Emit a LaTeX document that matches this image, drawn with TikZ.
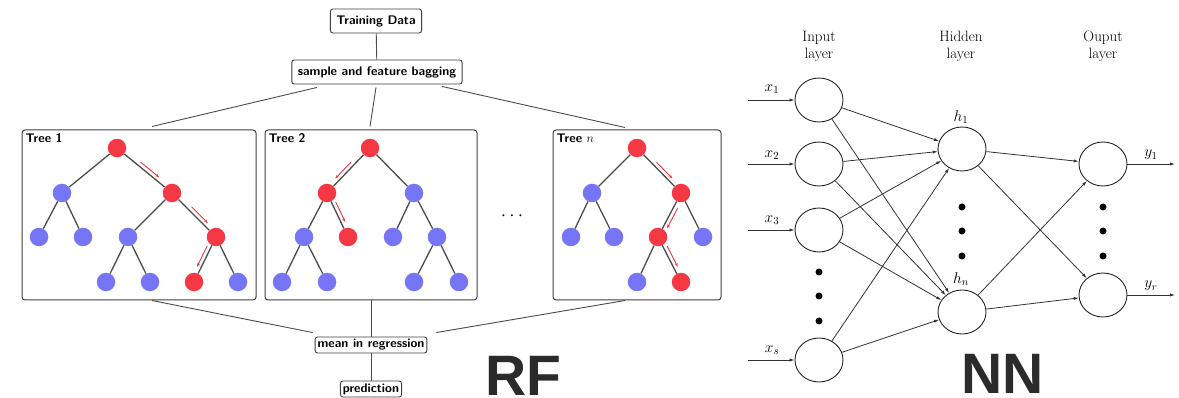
\RequirePackage{fix-cm}
\documentclass[tikz,border=0pt]{standalone}
\usepackage{fontspec}
\newfontfamily\headfont{Liberation Sans}
\usetikzlibrary{shapes.geometric,arrows.meta,calc}

\definecolor{rfred}{RGB}{244,56,68}
\definecolor{rfblue}{RGB}{117,117,246}
\definecolor{headgray}{RGB}{43,43,43}

% offset arrow running beside a tree branch: from, to, start, end, side
\newcommand{\patharr}[5]{%
  \draw[patharrow] ($(#1)!#3!(#2)!4pt!#5:(#2)$) -- ($(#1)!#4!(#2)!4pt!#5:(#2)$);}

\tikzset{
  lbox/.style={draw=black!75, line width=0.9pt, rounded corners=2.5pt,
    font=\fontsize{12.5}{14}\sffamily\bfseries, inner xsep=6pt, inner ysep=2pt,
    minimum height=24pt},
  sbox/.style={lbox, inner xsep=2.5pt, inner ysep=1pt, minimum height=16pt},
  treebox/.style={draw=black!75, line width=1pt, rounded corners=3pt},
  treelabel/.style={font=\fontsize{12.5}{14}\sffamily\bfseries, inner sep=1pt},
  leaf/.style={circle, minimum size=18.5pt, inner sep=0pt},
  bn/.style={leaf, fill=rfblue},
  rn/.style={leaf, fill=rfred},
  branch/.style={draw=black!70, line width=1.3pt},
  flow/.style={draw=black!70, line width=0.9pt},
  patharrow/.style={draw=rfred, line width=0.9pt, -{Stealth[length=4pt,width=3pt]}},
  neuron/.style={ellipse, draw=black!85, line width=0.9pt, minimum width=48pt,
    minimum height=44pt, inner sep=0pt},
  syn/.style={draw=black!80, line width=0.8pt, -{Latex[length=5pt,width=3.2pt]}},
  nnlabel/.style={font=\fontsize{15}{17}\selectfont, align=center},
  var/.style={font=\fontsize{15.5}{17}\selectfont, inner sep=0pt},
  vdot/.style={circle, fill=black, minimum size=7pt, inner sep=0pt},
  big/.style={font=\fontsize{57}{60}\headfont\bfseries, text=headgray, inner sep=0pt}
}

\begin{document}
\begin{tikzpicture}[x=1pt,y=-1pt]
\useasboundingbox[fill=white] (0,0) rectangle (1179,398);

% ---------------- random forest ----------------
\node[lbox] (train) at (376,21) {Training Data};
\node[lbox] (bag) at (377,72) {sample and feature bagging};
\draw[flow] (train) -- (bag);

\node[treebox, minimum width=234pt, minimum height=170pt] (t1) at (139,215) {};
\node[treebox, minimum width=212pt, minimum height=170pt] (t2) at (371,215) {};
\node[treebox, minimum width=168pt, minimum height=170pt] (tn) at (637,215) {};
\node[treelabel, anchor=north west] (l1) at ($(t1.north west)+(3,3)$) {Tree 1};
\node[treelabel, anchor=north west] (l2) at ($(t2.north west)+(3,3)$) {Tree 2};
\node[treelabel, anchor=north west] (ln) at ($(tn.north west)+(3,3)$) {Tree $n$};
\node[font=\fontsize{19}{20}\selectfont] (more) at (512,216) {$\cdots$};

\draw[flow] ($(bag.south)+(-60,3)$) -- ($(t1.north)+(13,-3)$);
\draw[flow] ($(bag.south)+(-1,3)$) -- ($(t2.north)+(-1,-3)$);
\draw[flow] ($(bag.south)+(65,2)$) -- ($(tn.north)+(-12,-2)$);

% tree 1
\node[rn] (a0) at (117,148) {};
\node[bn] (a1) at (62,193) {};
\node[rn] (a2) at (172,193) {};
\node[bn] (a3) at (39,237) {};
\node[bn] (a4) at (83,237) {};
\node[bn] (a5) at (128,237) {};
\node[rn] (a6) at (216,237) {};
\node[bn] (a7) at (106,282) {};
\node[bn] (a8) at (150,282) {};
\node[rn] (a9) at (194,282) {};
\node[bn] (a10) at (238,282) {};
\foreach \p/\c in {a0/a1,a0/a2,a1/a3,a1/a4,a2/a5,a2/a6,a5/a7,a5/a8,a6/a9,a6/a10}
  \draw[branch] (\p) -- (\c);
\patharr{a0}{a2}{0.38}{0.72}{90}
\patharr{a2}{a6}{0.38}{0.75}{90}
\patharr{a6}{a9}{0.24}{0.70}{-90}

% tree 2
\node[rn] (b0) at (370,148) {};
\node[rn] (b1) at (327,193) {};
\node[bn] (b2) at (414,193) {};
\node[bn] (b3) at (304,237) {};
\node[rn] (b4) at (348,237) {};
\node[bn] (b5) at (393,237) {};
\node[bn] (b6) at (437,237) {};
\node[bn] (b7) at (282,282) {};
\node[bn] (b8) at (327,282) {};
\node[bn] (b9) at (414,282) {};
\node[bn] (b10) at (459,282) {};
\foreach \p/\c in {b0/b1,b0/b2,b1/b3,b1/b4,b2/b5,b2/b6,b3/b7,b3/b8,b6/b9,b6/b10}
  \draw[branch] (\p) -- (\c);
\patharr{b0}{b1}{0.38}{0.74}{-90}
\patharr{b1}{b4}{0.24}{0.70}{90}

% tree n
\node[rn] (c0) at (637,148) {};
\node[bn] (c1) at (592,193) {};
\node[rn] (c2) at (681,193) {};
\node[bn] (c3) at (571,237) {};
\node[bn] (c4) at (614,237) {};
\node[rn] (c5) at (658,237) {};
\node[bn] (c6) at (703,237) {};
\node[bn] (c7) at (637,282) {};
\node[rn] (c8) at (681,282) {};
\foreach \p/\c in {c0/c1,c0/c2,c1/c3,c1/c4,c2/c5,c2/c6,c5/c7,c5/c8}
  \draw[branch] (\p) -- (\c);
\patharr{c0}{c2}{0.38}{0.74}{90}
\patharr{c2}{c5}{0.30}{0.76}{90}
\patharr{c5}{c8}{0.24}{0.70}{90}

% aggregation
\node[sbox] (mean) at (371,345) {mean in regression};
\node[sbox] (pred) at (371,389) {prediction};
\draw[flow] ($(t1.south)+(13,0)$) -- ($(mean.north west)+(-2,-4)$);
\draw[flow] (t2.south) -- (mean.north);
\draw[flow] ($(tn.south)+(-12,0)$) -- ($(mean.north east)+(9,-4)$);
\draw[flow] (mean) -- (pred);

\node[big, anchor=base] (rf) at (523,395) {RF};

% ---------------- neural network ----------------
\node[nnlabel] (li) at (819,46) {Input\\layer};
\node[nnlabel] (lh) at (961,46) {Hidden\\layer};
\node[nnlabel] (lo) at (1103,46) {Ouput\\layer};

\node[neuron] (i1) at (819,100) {};
\node[neuron] (i2) at (819,164) {};
\node[neuron] (i3) at (819,230) {};
\node[neuron] (is) at (819,360) {};
\node[neuron] (h1) at (962,149) {};
\node[neuron] (hn) at (962,312) {};
\node[neuron] (o1) at (1103,164) {};
\node[neuron] (or) at (1103,295) {};

\foreach \y [count=\k] in {272,296,321} \node[vdot] (di\k) at (819,\y) {};
\foreach \y [count=\k] in {207,231,256} \node[vdot] (dh\k) at (962,\y) {};
\foreach \y [count=\k] in {207,231,256} \node[vdot] (do\k) at (1103,\y) {};

\coordinate (s1) at (748,100);
\coordinate (s2) at (748,164);
\coordinate (s3) at (748,230);
\coordinate (ss) at (748,360);
\coordinate (e1) at (1175,164);
\coordinate (er) at (1175,295);

\foreach \s/\n in {s1/i1,s2/i2,s3/i3,ss/is} \draw[syn] (\s) -- (\n);
\foreach \i in {i1,i2,i3,is} {
  \draw[syn] (\i) -- (h1);
  \draw[syn] (\i) -- (hn);
}
\foreach \h in {h1,hn} {
  \draw[syn] (\h) -- (o1);
  \draw[syn] (\h) -- (or);
}
\draw[syn] (o1) -- (e1);
\draw[syn] (or) -- (er);

\node[var] (vx1) at (772,89) {$x_1$};
\node[var] (vx2) at (772,155) {$x_2$};
\node[var] (vx3) at (772,220) {$x_3$};
\node[var] (vxs) at (772,350) {$x_s$};
\node[var] (vh1) at (961,117) {$h_1$};
\node[var] (vhn) at (961,279) {$h_n$};
\node[var] (vy1) at (1151,155) {$y_1$};
\node[var] (vyr) at (1151,286) {$y_r$};

\node[big, anchor=base] (nn) at (1003,393) {NN};
\end{tikzpicture}
\end{document}
